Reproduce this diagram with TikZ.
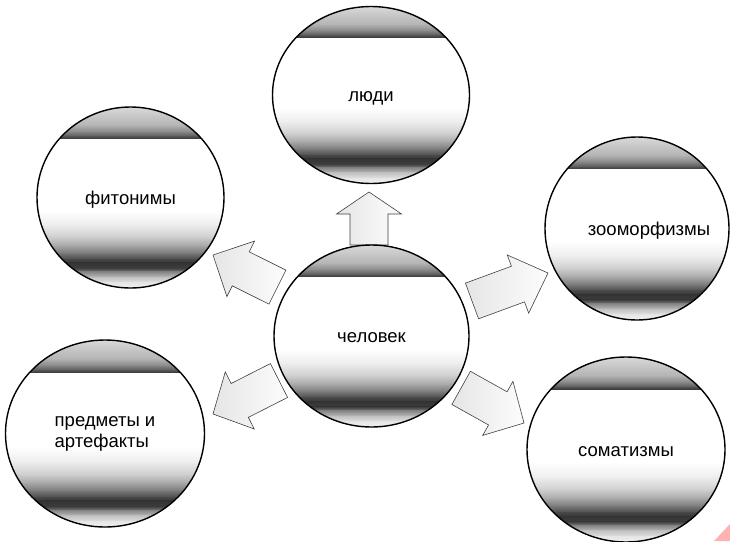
\documentclass[tikz,border=0pt]{standalone}
\usepackage{fontspec}
\setmainfont{Liberation Sans}
\usetikzlibrary{shapes.geometric}
\tikzset{
  bubblebase/.style={ellipse, draw=black, line width=1.4pt,
    inner sep=0pt, font=\fontsize{18.5}{21}\selectfont},
  bubble/.style={bubblebase, text height=17pt, text depth=3.6pt},
  barrow/.style={draw=black!75, line width=0.6pt, left color=black!10, right color=black!1}
}
\newcommand\myblockarrow[5]{%
  \begin{scope}[shift={#1},rotate=#2]
    \path[barrow] (0,0) -- (-#4,#5) -- (-#4,19) -- (-#3,19) -- (-#3,-19)
      -- (-#4,-19) -- (-#4,-#5) -- cycle;
  \end{scope}}
\newcommand\metalfill[4]{%
  \begin{scope}[shift={(#1-#3/2,#2-#4/2)}, x=#3pt, y=-#4pt]
    \clip (0.5,0.5) ellipse [x radius=0.5, y radius=0.5];
    \foreach \fa/\fb/\pa/\pb in {0/0.105/15/30, 0.10/0.145/30/50,
      0.14/0.17/50/70, 0.165/0.18/70/82, 0.18/0.575/0/0, 0.57/0.655/0/7,
      0.65/0.725/7/20, 0.72/0.775/20/37, 0.77/0.815/37/55, 0.81/0.845/55/72,
      0.84/0.865/72/80, 0.86/0.895/80/75, 0.89/0.915/75/48, 0.91/0.945/48/24,
      0.94/0.975/24/10, 0.97/1.01/10/4}
      \fill[top color=black!\pa, bottom color=black!\pb] (-0.01,\fa) rectangle (1.01,\fb);
  \end{scope}}
\begin{document}
\begin{tikzpicture}[x=1pt,y=-1pt]
\useasboundingbox (0,0) rectangle (730,541);
% block arrows
\myblockarrow{(369,192)}{90}{53}{22}{32.5}
\myblockarrow{(213,255)}{153.5}{72}{31}{31}
\myblockarrow{(548,273)}{20.2}{81}{32}{31}
\myblockarrow{(524,423)}{-29.2}{72}{30}{31}
\myblockarrow{(213,414)}{206.9}{74}{30}{32}
% circles
\metalfill{371}{95}{197}{177}
\node[bubble, minimum width=197pt, minimum height=177pt] (lyudi) at (371,95) {люди};
\metalfill{371.5}{336}{195}{182}
\node[bubble, minimum width=195pt, minimum height=182pt] (chel) at (371.5,336) {человек};
\metalfill{130.5}{197.5}{187}{181}
\node[bubble, minimum width=187pt, minimum height=181pt] (fit) at (130.5,197.5) {фитонимы};
\metalfill{637}{228.5}{184}{183}
\node[bubble, minimum width=184pt, minimum height=183pt] (zoo) at (637,228.5) {\makebox[0pt]{\hspace*{24pt}зооморфизмы}};
\metalfill{105}{433.5}{199}{187}
\node[bubblebase, align=left, minimum width=199pt, minimum height=187pt] (pred) at (105,433.5) {предметы и\\артефакты};
\metalfill{626}{449.5}{198}{185}
\node[bubble, minimum width=198pt, minimum height=185pt] (som) at (626,449.5) {соматизмы};
% corner mark
\fill[red!30] (714,541) -- (730,524) -- (730,541) -- cycle;
\end{tikzpicture}
\end{document}
